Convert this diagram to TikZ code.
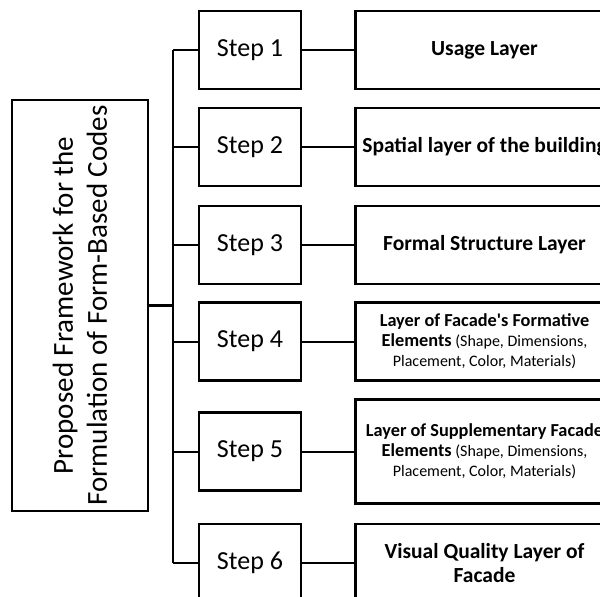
\documentclass[tikz,border=0pt]{standalone}
\usepackage{fontspec}
\setmainfont{Carlito}
\usetikzlibrary{positioning}
\newcommand\boldpart[1]{{\fontsize{18.3}{20}\selectfont\bfseries #1}}

\begin{document}
\begin{tikzpicture}[x=1pt,y=-1pt,
    stepbox/.style={draw,line width=2.5pt,minimum width=102pt,minimum height=78pt,inner sep=0pt,font=\fontsize{26}{31}\selectfont},
    layerbox/.style={draw,line width=2.5pt,minimum width=258pt,minimum height=78pt,inner sep=0pt,align=center,font=\fontsize{21.5}{24}\selectfont\bfseries},
    smalltext/.style={font=\fontsize{16}{20}\selectfont},
    link/.style={line width=2pt}]
    \useasboundingbox (0,0) rectangle (600,597);
    \clip (0,0) rectangle (600,597);
    % framework box
    \node[draw,line width=2pt,rotate=90,minimum width=411pt,minimum height=136pt,inner sep=0pt,align=center,font=\fontsize{29}{34}\selectfont] (frame) at (80,305.5)
        {Proposed Framework for the\\Formulation of Form-Based Codes};
    % steps
    \foreach \n/\y in {1/50,2/147,3/245,4/341.5,5/451.5,6/563}
        \node[stepbox] (s\n) at (250,\y) {Step \n};
    % layers
    \node[layerbox,right=52pt of s1] (l1) {Usage Layer};
    \node[layerbox,right=52pt of s2] (l2) {Spatial layer of the building};
    \node[layerbox,right=52pt of s3] (l3) {Formal Structure Layer};
    \node[layerbox,smalltext,right=52pt of s4] (l4)
        {\boldpart{Layer of Facade\textquotesingle s Formative}\\\boldpart{Elements} (Shape, Dimensions,\\Placement, Color, Materials)};
    \node[layerbox,smalltext,minimum height=104pt,right=52pt of s5] (l5)
        {\boldpart{Layer of Supplementary Facade}\\\boldpart{Elements} (Shape, Dimensions,\\Placement, Color, Materials)};
    \node[layerbox,right=52pt of s6] (l6) {Visual Quality Layer of\\Facade};
    % connectors
    \coordinate (trunk) at (173,305.5);
    \draw[line width=3pt] (frame.south) -- (trunk);
    \draw[link] (trunk |- s1) -- (trunk |- s6);
    \foreach \n in {1,...,6} {
        \draw[link] (trunk |- s\n) -- (s\n);
        \draw[link] (s\n) -- (l\n);
    }
\end{tikzpicture}
\end{document}
